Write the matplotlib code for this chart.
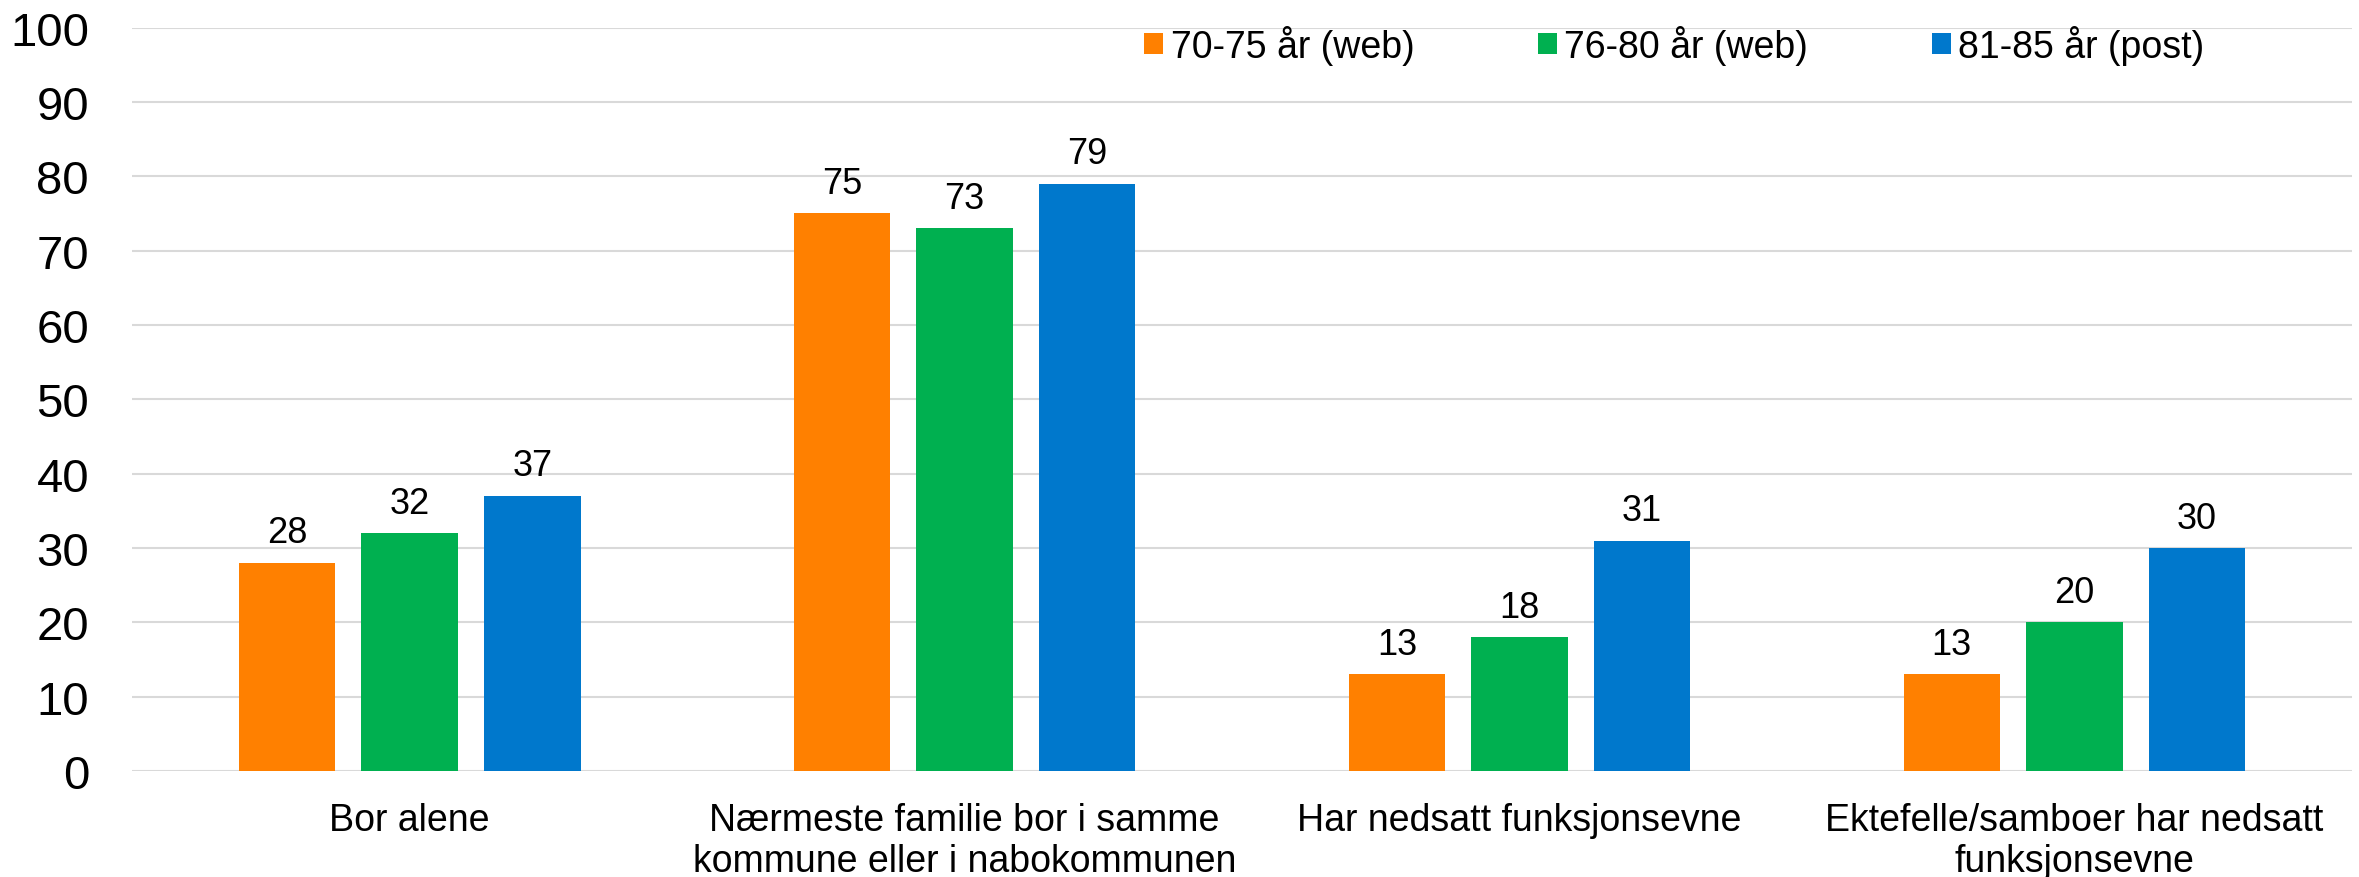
import matplotlib
matplotlib.use("Agg")
from matplotlib import pyplot as plt
import numpy as np

plt.rcParams['font.family'] = ['Liberation Sans', 'DejaVu Sans']

categories = ['Bor alene',
              'Nærmeste familie bor i samme\nkommune eller i nabokommunen',
              'Har nedsatt funksjonsevne',
              'Ektefelle/samboer har nedsatt\nfunksjonsevne']
series_names = ['70-75 år (web)', '76-80 år (web)', '81-85 år (post)']
web_70_75 = [28, 75, 13, 13]
web_76_80 = [32, 73, 18, 20]
post_81_85 = [37, 79, 31, 30]
colors = ['#FF8000', '#00B050', '#0078CC']
yticks = [0, 10, 20, 30, 40, 50, 60, 70, 80, 90, 100]

fig = plt.figure(figsize=(23.59, 8.78), dpi=100)
ax = fig.add_axes([0.056, 0.1207, 0.941, 0.8467])

x = np.arange(len(categories))
width = 0.174
step = 0.221
for i, (vals, name) in enumerate(zip([web_70_75, web_76_80, post_81_85], series_names)):
    bars = ax.bar(x + (i - 1) * step, vals, width, color=colors[i], label=name, zorder=3)
    ax.bar_label(bars, padding=9, fontsize=26)

ax.set_xlim(-0.5, len(categories) - 0.5)
ax.set_ylim(0, 100)
ax.set_yticks(yticks)
ax.set_xticks(x)
ax.set_xticklabels(categories, fontsize=27, linespacing=1.2)
ax.tick_params(axis='y', length=0, pad=31, labelsize=34)
ax.tick_params(axis='x', length=0, pad=22)
ax.grid(axis='y', color='#D9D9D9', linewidth=1.5, zorder=0)
for s in ax.spines.values():
    s.set_visible(False)

ax.legend(ncol=3, loc='center left', bbox_to_anchor=(0.4851, 0.948),
          bbox_transform=fig.transFigure, frameon=False, fontsize=27,
          handlelength=0.5, handleheight=0.5, handletextpad=0.2,
          columnspacing=3.3, borderpad=0, borderaxespad=0)

plt.savefig('out.png', dpi=100)
